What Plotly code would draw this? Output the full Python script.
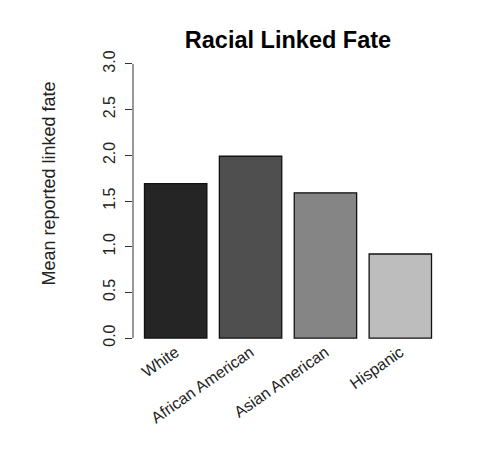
import plotly.graph_objects as go

categories = ["White", "African American", "Asian American", "Hispanic"]
values = [1.69, 1.99, 1.59, 0.92]
bar_colors = ["#252525", "#4f4f4f", "#858585", "#bdbdbd"]
positions = [0.7, 1.9, 3.1, 4.3]
y_ticks = [0, 0.5, 1.0, 1.5, 2.0, 2.5, 3.0]
y_tick_labels = ["0.0", "0.5", "1.0", "1.5", "2.0", "2.5", "3.0"]
y_title = "Mean reported linked fate"

FONT = "Liberation Sans, Arial, Helvetica, sans-serif"

fig = go.Figure()
fig.add_trace(go.Bar(
    x=positions, y=values, width=1.0,
    marker=dict(color=bar_colors, line=dict(color="#111111", width=1.3)),
    showlegend=False, hoverinfo="skip",
))

fig.update_layout(
    width=494, height=458,
    margin=dict(l=133, r=51, t=53, b=109, pad=0),
    paper_bgcolor="white", plot_bgcolor="white",
    font=dict(family=FONT, color="#000000"),
    title=dict(text="<b>Racial Linked Fate</b>", x=0.5, xref="paper", xanchor="center",
               y=1 - 40 / 458, yref="container", yanchor="middle",
               font=dict(size=23.5, family=FONT, color="#000000")),
    xaxis=dict(range=[0.016, 4.984], tickmode="array", tickvals=positions,
               ticktext=categories, tickangle=-35, ticks="", showline=False,
               showgrid=False, zeroline=False, tickfont=dict(size=16, color="#222222"),
               ticklabelstandoff=-10, automargin=False),
    yaxis=dict(range=[-0.12, 3.12], tickmode="array", tickvals=y_ticks,
               ticktext=y_tick_labels, tickangle=-90, ticks="outside", ticklen=7,
               tickwidth=1, tickcolor="#333333", showline=False, showgrid=False,
               zeroline=False, tickfont=dict(size=16, color="#222222"), automargin=False,
               ticklabelstandoff=4),
)

fig.add_annotation(text=y_title, textangle=-90, xref="paper", yref="paper",
                   x=(48 - 133) / 310, y=(349 - 183.5) / 296, xanchor="center", yanchor="middle",
                   showarrow=False, font=dict(size=18, color="#222222", family=FONT))

fig.add_shape(type="line", xref="paper", yref="y", x0=0, x1=0, y0=y_ticks[0], y1=y_ticks[-1],
              line=dict(color="#333333", width=1))

fig.write_html("out.html", config={"displayModeBar": False},
               post_script="document.body.style.margin='0px';")
